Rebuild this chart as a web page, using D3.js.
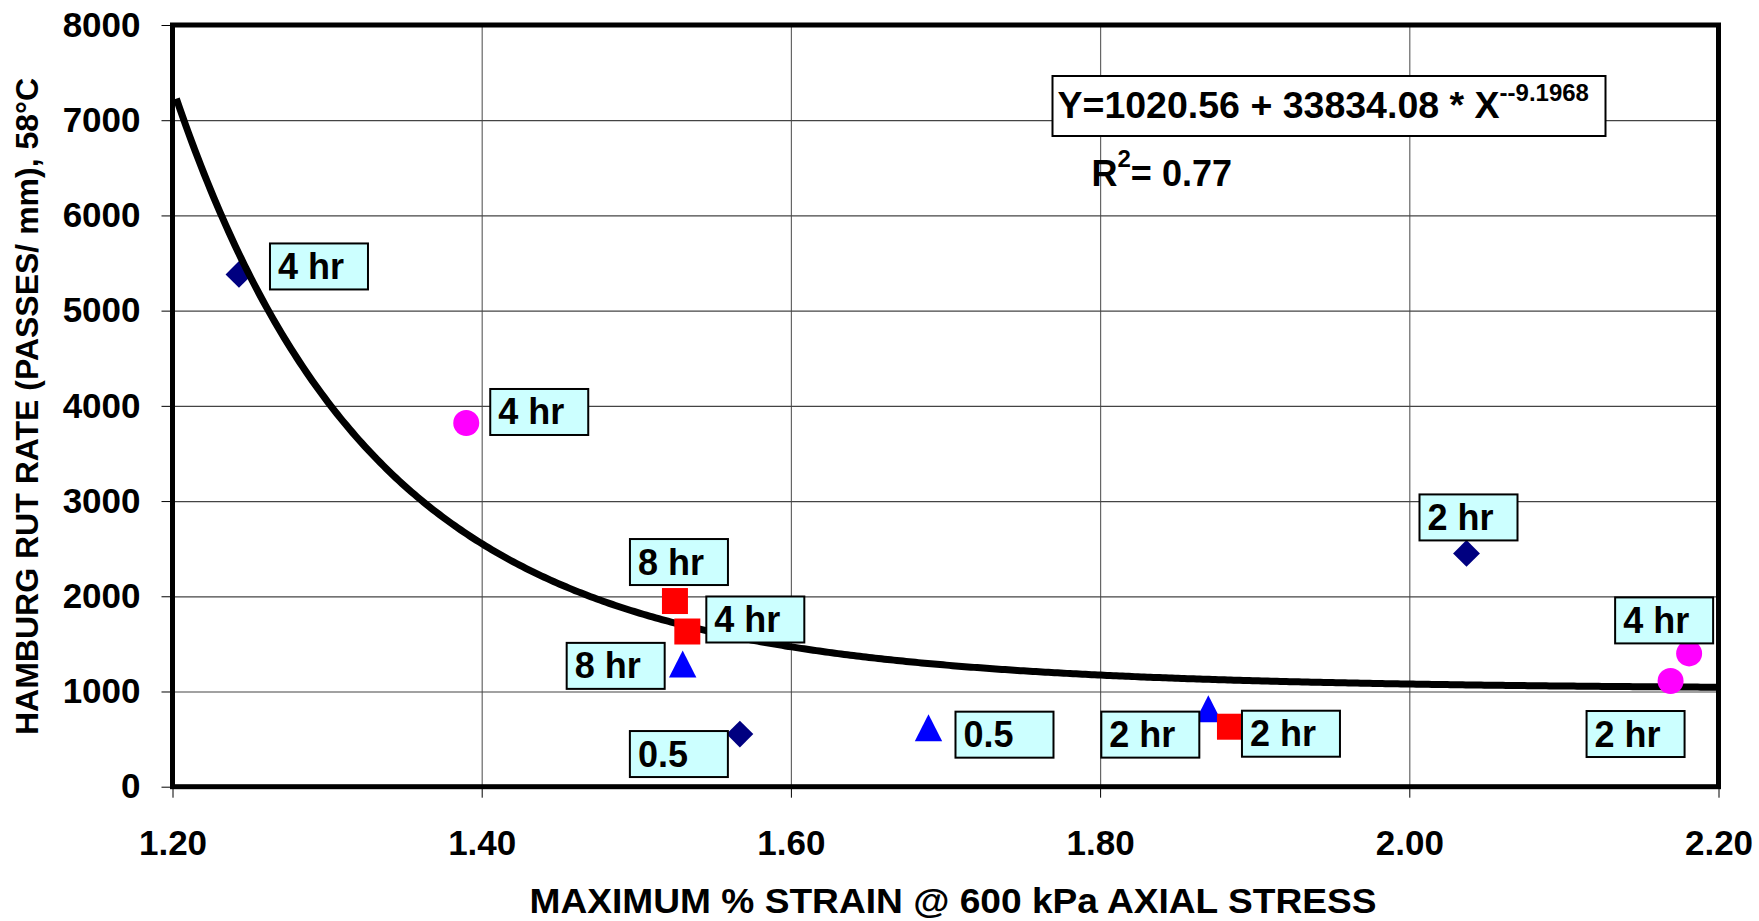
<!DOCTYPE html>
<html>
<head>
<meta charset="utf-8">
<script src="https://cdn.jsdelivr.net/npm/d3@7"></script>
<style>
  body { margin: 0; background: #fff; }
  svg text { font-family: "Liberation Sans", Arial, sans-serif; font-weight: bold; fill: #000; }
</style>
</head>
<body>
<div id="content"></div>
<script>
// data
const xTicks = [1.2, 1.4, 1.6, 1.8, 2.0, 2.2];
const yTicks = [0, 1000, 2000, 3000, 4000, 5000, 6000, 7000, 8000];

const strainNavy = [1.243, 1.567, 2.037];
const rutNavy = [5380, 553, 2450];
const labelNavy = ["4 hr", "0.5", "2 hr"];

const strainBlue = [1.530, 1.689, 1.870];
const rutBlue = [1290, 620, 820];
const labelBlue = ["8 hr", "0.5", "2 hr"];

const strainRed = [1.525, 1.533, 1.884];
const rutRed = [1950, 1630, 630];
const labelRed = ["8 hr", "4 hr", "2 hr"];

const strainPink = [1.390, 2.181, 2.169];
const rutPink = [3820, 1400, 1110];
const labelPink = ["4 hr", "4 hr", "2 hr"];

// trend line Y = a + b * X^c
const fitA = 1020.56, fitB = 33834.08, fitC = -9.1968;
const fitR2 = 0.77;

// label box offsets from their point (layout only)
const offNavy = [[80, -8], [-61, 20], [2, -36]];
const offBlue = [[-67, 2], [76, 7], [-58, 26]];
const offRed = [[4, -39], [68, -12], [61, 7]];
const offPink = [[73, -11], [-25, -33], [-35, 53]];

const width = 1759, height = 921;
const plotL = 172.5, plotR = 1718.5, plotT = 25, plotB = 786.7;

const svg = d3.select('#content').append('svg')
  .attr('width', width)
  .attr('height', height);

const x = d3.scaleLinear().domain([1.2, 2.2]).range([plotL, plotR]);
const y = d3.scaleLinear().domain([0, 8000]).range([plotB, plotT]);

// gridlines
svg.append('g')
  .attr('transform', `translate(0,${plotB})`)
  .call(d3.axisBottom(x).tickValues(xTicks.slice(1, -1)).tickSize(-(plotB - plotT)).tickFormat(''))
  .call(g => g.select('.domain').remove())
  .call(g => g.selectAll('line').attr('stroke', '#666').attr('stroke-width', 1.2));

svg.append('g')
  .attr('transform', `translate(${plotL},0)`)
  .call(d3.axisLeft(y).tickValues(yTicks.slice(1, -1)).tickSize(-(plotR - plotL)).tickFormat(''))
  .call(g => g.select('.domain').remove())
  .call(g => g.selectAll('line').attr('stroke', '#444').attr('stroke-width', 1.2));

// axes with tick labels
svg.append('g')
  .attr('transform', `translate(0,${plotB})`)
  .call(d3.axisBottom(x).tickValues(xTicks).tickSize(11).tickPadding(32).tickFormat(d3.format('.2f')))
  .call(g => g.select('.domain').remove())
  .call(g => g.selectAll('line').attr('stroke', '#000').attr('stroke-width', 1))
  .call(g => g.selectAll('text').attr('font-size', 35).style('font-family', '"Liberation Sans", Arial, sans-serif'));

svg.append('g')
  .attr('transform', `translate(${plotL},0)`)
  .call(d3.axisLeft(y).tickValues(yTicks).tickSize(11).tickPadding(21).tickFormat(d3.format('d')))
  .call(g => g.select('.domain').remove())
  .call(g => g.selectAll('line').attr('stroke', '#000').attr('stroke-width', 1))
  .call(g => g.selectAll('text').attr('font-size', 35).style('font-family', '"Liberation Sans", Arial, sans-serif'));

// plot frame
svg.append('rect')
  .attr('x', plotL).attr('y', plotT)
  .attr('width', plotR - plotL).attr('height', plotB - plotT)
  .attr('fill', 'none')
  .attr('stroke', '#000')
  .attr('stroke-width', 5);

function pts(xs, ys, labels, offs) {
  return xs.map((v, i) => ({x: v, y: ys[i], label: labels[i], off: offs[i]}));
}
const navy = pts(strainNavy, rutNavy, labelNavy, offNavy);
const blue = pts(strainBlue, rutBlue, labelBlue, offBlue);
const red = pts(strainRed, rutRed, labelRed, offRed);
const pink = pts(strainPink, rutPink, labelPink, offPink);

// diamonds
svg.append('g').selectAll('path').data(navy).join('path')
  .attr('d', d3.symbol(d3.symbolSquare, 360)())
  .attr('transform', d => `translate(${x(d.x)},${y(d.y)}) rotate(45)`)
  .attr('fill', '#000080');

// trend line
const fitX = d3.range(1.2025, 2.2001, 0.002);
const line = d3.line().x(d => x(d)).y(d => y(fitA + fitB * Math.pow(d, fitC)));
svg.append('path')
  .attr('d', line(fitX))
  .attr('fill', 'none')
  .attr('stroke', '#000')
  .attr('stroke-width', 7);

// triangles
const tri = 'M0,-13.5L13.7,13.5L-13.7,13.5Z';
svg.append('g').selectAll('path').data(blue).join('path')
  .attr('d', tri)
  .attr('transform', d => `translate(${x(d.x)},${y(d.y)})`)
  .attr('fill', '#0000ff');

// squares
svg.append('g').selectAll('path').data(red).join('path')
  .attr('d', d3.symbol(d3.symbolSquare, 676)())
  .attr('transform', d => `translate(${x(d.x)},${y(d.y)})`)
  .attr('fill', '#ff0000');

// circles
svg.append('g').selectAll('path').data(pink).join('path')
  .attr('d', d3.symbol(d3.symbolCircle, 531)())
  .attr('transform', d => `translate(${x(d.x)},${y(d.y)})`)
  .attr('fill', '#ff00ff');

// data labels
const boxW = 98, boxH = 46;
const labels = svg.append('g').selectAll('g')
  .data([...navy, ...blue, ...red, ...pink])
  .join('g')
  .attr('transform', d => `translate(${x(d.x) + d.off[0] - boxW / 2},${y(d.y) + d.off[1] - boxH / 2})`);
labels.append('rect')
  .attr('width', boxW).attr('height', boxH)
  .attr('fill', '#ccffff')
  .attr('stroke', '#000')
  .attr('stroke-width', 2);
labels.append('text')
  .attr('x', 8).attr('y', 35.5)
  .attr('font-size', 36)
  .text(d => d.label);

// equation box
svg.append('rect')
  .attr('x', 1052.5).attr('y', 76)
  .attr('width', 553).attr('height', 60)
  .attr('fill', '#fff')
  .attr('stroke', '#000')
  .attr('stroke-width', 2);
const eq = svg.append('text').attr('x', 1057.5).attr('y', 118.3).attr('font-size', 37.5);
eq.append('tspan').text(`Y=${fitA} + ${fitB.toFixed(2)} * X`);
eq.append('tspan').attr('font-size', 24).attr('dy', -17).text(`-${fitC}`);

const r2 = svg.append('text').attr('x', 1091.5).attr('y', 185.7).attr('font-size', 36);
r2.append('tspan').text('R');
r2.append('tspan').attr('font-size', 24).attr('dy', -19).text('2');
r2.append('tspan').attr('dy', 19).text(`= ${fitR2}`);

// axis titles
svg.append('text')
  .attr('x', 953).attr('y', 913)
  .attr('text-anchor', 'middle')
  .attr('font-size', 35)
  .attr('textLength', 847)
  .attr('lengthAdjust', 'spacingAndGlyphs')
  .text('MAXIMUM % STRAIN @ 600 kPa AXIAL STRESS');

svg.append('text')
  .attr('transform', 'translate(38,406.5) rotate(-90)')
  .attr('text-anchor', 'middle')
  .attr('font-size', 32)
  .text('HAMBURG RUT RATE (PASSES/ mm), 58°C');
</script>
</body>
</html>
